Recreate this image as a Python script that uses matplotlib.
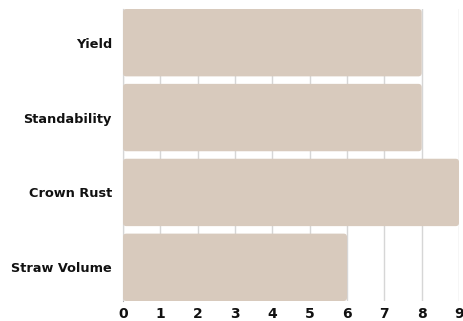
import matplotlib.pyplot as plt
from matplotlib.patches import FancyBboxPatch

categories = ["Yield", "Standability", "Crown Rust", "Straw Volume"]
values = [8, 8, 9, 6]
xticks = list(range(0, 10))

bar_color = "#d8cabd"

fig = plt.figure(figsize=(4.63, 3.21), dpi=100)
ax = fig.add_axes([0.2657, 0.0623, 0.7257, 0.9097])

ypos = list(range(len(categories)))
bars = ax.barh(ypos, values, height=0.9, color=bar_color, zorder=2)

# swap the plain bars for ones with slightly rounded corners
for b in bars:
    x, y = b.get_x(), b.get_y()
    w, h = b.get_width(), b.get_height()
    b.set_visible(False)
    ax.add_patch(FancyBboxPatch((x, y), w, h,
                                boxstyle="round,pad=0,rounding_size=0.09",
                                mutation_aspect=0.5, linewidth=0,
                                facecolor=bar_color, zorder=2))

ax.set_xlim(0, 9)
ax.set_ylim(3.45, -0.45)
ax.set_xticks(xticks)
ax.set_yticks(ypos)
ax.set_yticklabels(categories, fontsize=9.3, fontweight="bold", color="#111111")
ax.set_xticklabels([str(t) for t in xticks], fontsize=10, fontweight="bold",
                   color="#111111")
ax.tick_params(axis="both", length=0)
ax.tick_params(axis="y", pad=8)
ax.tick_params(axis="x", pad=4)

ax.grid(axis="x", color="#d6d6d6", linewidth=1, zorder=0)
ax.grid(axis="y", visible=False)
for s in ["top", "right", "bottom"]:
    ax.spines[s].set_visible(False)
ax.spines["left"].set_color("#aaaaaa")
ax.spines["left"].set_zorder(1)

fig.savefig("out.png", dpi=100)
